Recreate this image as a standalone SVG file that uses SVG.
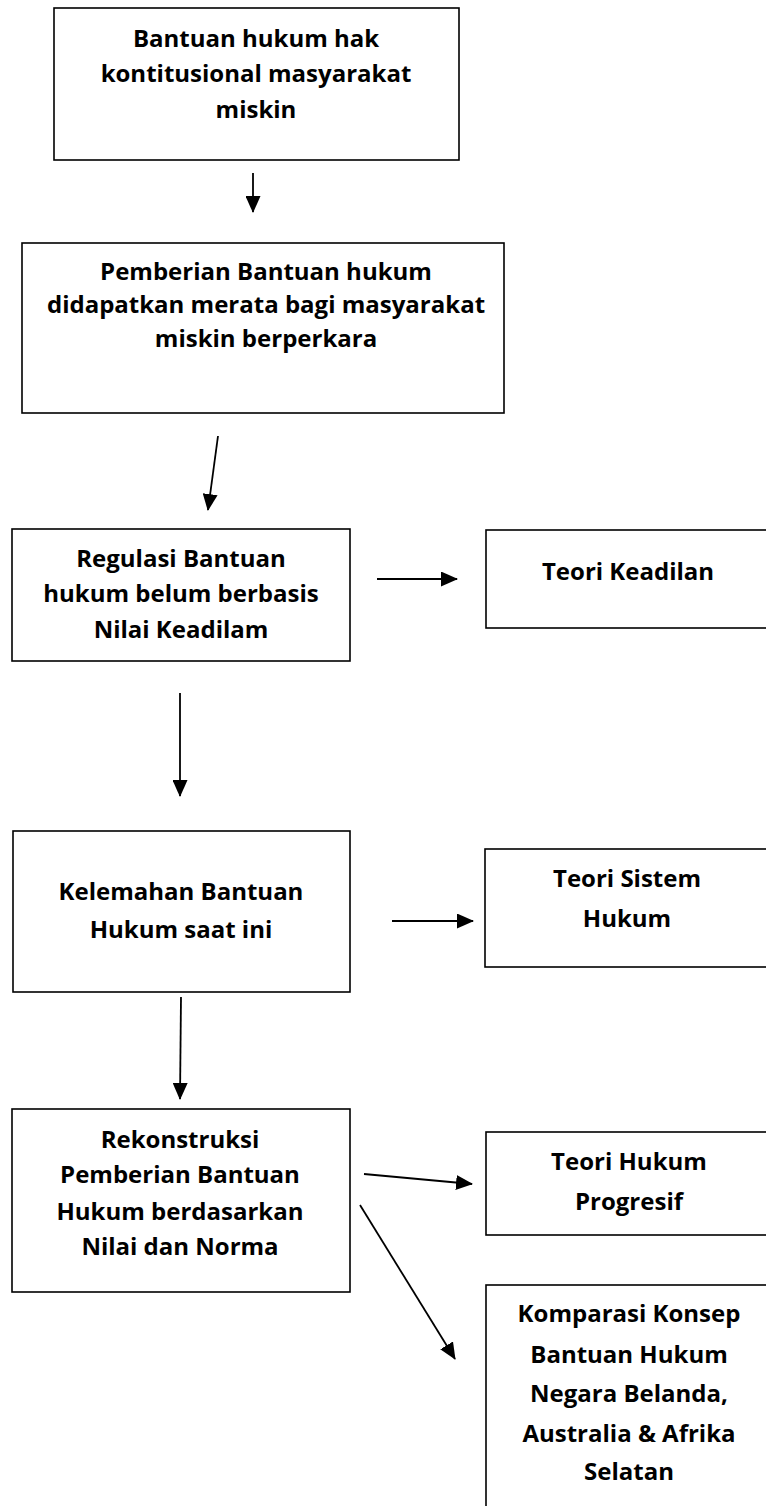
<svg xmlns="http://www.w3.org/2000/svg" width="766" height="1506" viewBox="0 0 766 1506">
<style>
.box{fill:#fff;stroke:#000;stroke-width:1.6}
.t{font-family:"Open Sans","Liberation Sans",sans-serif;font-weight:700;font-size:24px;fill:#000;text-anchor:middle}
.c{stroke:#000;stroke-width:1.8;fill:none;marker-end:url(#ah)}
</style>
<defs>
<marker id="ah" markerUnits="userSpaceOnUse" markerWidth="17" markerHeight="15" refX="16" refY="7.5" orient="auto">
<path d="M0,0 L17,7.5 L0,15 Z" fill="#000"/>
</marker>
</defs>
<rect width="766" height="1506" fill="#fff"/>
<g id="connectors">
<line class="c" x1="253" y1="173" x2="253" y2="212"/>
<line class="c" x1="218" y1="436" x2="208" y2="510"/>
<line class="c" x1="377" y1="579" x2="457" y2="579"/>
<line class="c" x1="180" y1="693" x2="180" y2="796"/>
<line class="c" x1="392" y1="921" x2="473" y2="921"/>
<line class="c" x1="181" y1="997" x2="180" y2="1099"/>
<line class="c" x1="364" y1="1174" x2="472" y2="1184"/>
<line class="c" x1="360" y1="1205" x2="455" y2="1359"/>
</g>
<g id="n1">
<rect class="box" x="54" y="8" width="405" height="152"/>
<text class="t" x="256" y="47">Bantuan hukum hak</text>
<text class="t" x="256" y="82">kontitusional masyarakat</text>
<text class="t" x="256" y="118">miskin</text>
</g>
<g id="n2">
<rect class="box" x="22" y="243" width="482" height="170"/>
<text class="t" x="266" y="280">Pemberian Bantuan hukum</text>
<text class="t" x="266" y="313">didapatkan merata bagi masyarakat</text>
<text class="t" x="266" y="347">miskin berperkara</text>
</g>
<g id="n3">
<rect class="box" x="12" y="529" width="338" height="132"/>
<text class="t" x="181" y="567">Regulasi Bantuan</text>
<text class="t" x="181" y="602">hukum belum berbasis</text>
<text class="t" x="181" y="638">Nilai Keadilam</text>
</g>
<g id="n4">
<rect class="box" x="486" y="530" width="290" height="98"/>
<text class="t" x="628" y="580">Teori Keadilan</text>
</g>
<g id="n5">
<rect class="box" x="13" y="831" width="337" height="161"/>
<text class="t" x="181" y="900">Kelemahan Bantuan</text>
<text class="t" x="181" y="938">Hukum saat ini</text>
</g>
<g id="n6">
<rect class="box" x="485" y="849" width="290" height="118"/>
<text class="t" x="627" y="887">Teori Sistem</text>
<text class="t" x="627" y="927">Hukum</text>
</g>
<g id="n7">
<rect class="box" x="12" y="1109" width="338" height="183"/>
<text class="t" x="180" y="1148">Rekonstruksi</text>
<text class="t" x="180" y="1183">Pemberian Bantuan</text>
<text class="t" x="180" y="1220">Hukum berdasarkan</text>
<text class="t" x="180" y="1255">Nilai dan Norma</text>
</g>
<g id="n8">
<rect class="box" x="486" y="1132" width="290" height="103"/>
<text class="t" x="629" y="1170">Teori Hukum</text>
<text class="t" x="629" y="1210">Progresif</text>
</g>
<g id="n9">
<rect class="box" x="486" y="1285" width="290" height="240"/>
<text class="t" x="629" y="1322">Komparasi Konsep</text>
<text class="t" x="629" y="1363">Bantuan Hukum</text>
<text class="t" x="629" y="1402">Negara Belanda,</text>
<text class="t" x="629" y="1442">Australia &amp; Afrika</text>
<text class="t" x="629" y="1480">Selatan</text>
</g>
</svg>
